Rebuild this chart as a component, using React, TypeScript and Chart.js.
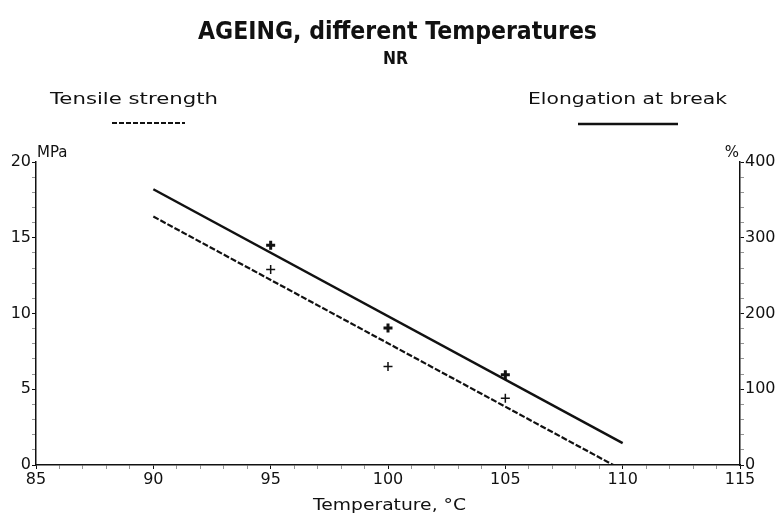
import React, { useEffect, useRef } from 'react';
import { Chart, registerables } from 'chart.js';

Chart.register(...registerables);

const chartTitle = 'AGEING, different Temperatures';
const chartSubtitle = 'NR';
const xTitle = 'Temperature, °C';
const seriesNames = ['Tensile strength', 'Elongation at break'];
const axisUnits = ['MPa', '%'];

const measuredTemps = [95, 100, 105];
const tensileMeasured = [12.9, 6.5, 4.4];
const elongationMeasured = [290, 181, 119];

const tensileFitTemps = [90, 109.6];
const tensileFit = [16.4, 0];
const elongationFitTemps = [90, 110];
const elongationFit = [364, 29];

const xRange = [85, 115];
const yRange = [0, 20];
const y1Range = [0, 400];

const toPts = (xs: number[], ys: number[]) => xs.map((x, i) => ({ x, y: ys[i] }));

const INK = '#111111';
const TICK_FONT = { family: 'DejaVu Sans', size: 16 };

const fitText = (ctx: CanvasRenderingContext2D, text: string, left: number, cy: number, width: number, sy: number) => {
  const w = ctx.measureText(text).width;
  ctx.save();
  ctx.translate(left, cy);
  ctx.scale(width / w, sy);
  ctx.textAlign = 'left';
  ctx.fillText(text, 0, 0);
  ctx.restore();
};

const textPlugin = {
  id: 'texts',
  afterDraw(chart: any) {
    const ctx = chart.ctx as CanvasRenderingContext2D;
    const area = chart.chartArea;
    ctx.save();
    ctx.fillStyle = INK;
    ctx.strokeStyle = INK;
    ctx.textBaseline = 'middle';
    ctx.font = 'bold 20px "DejaVu Sans"';
    fitText(ctx, chartTitle, 198, 32, 399, 1.25);
    ctx.font = 'bold 16px "DejaVu Sans"';
    fitText(ctx, chartSubtitle, 383, 59, 25, 1.1);

    ctx.font = '15px "DejaVu Sans"';
    fitText(ctx, seriesNames[0], 50, 100, 168, 1.1);
    fitText(ctx, seriesNames[1], 528, 100, 199, 1.1);
    fitText(ctx, xTitle, 313, 506, 153, 1.1);

    ctx.lineWidth = 2.2;
    ctx.setLineDash([5, 2]);
    ctx.beginPath();
    ctx.moveTo(112, 123);
    ctx.lineTo(185, 123);
    ctx.stroke();
    ctx.setLineDash([]);
    ctx.lineWidth = 2.5;
    ctx.beginPath();
    ctx.moveTo(578, 124);
    ctx.lineTo(678, 124);
    ctx.stroke();

    ctx.font = '15px "DejaVu Sans"';
    ctx.textAlign = 'left';
    ctx.fillText(axisUnits[0], area.left + 1, area.top - 9);
    ctx.textAlign = 'right';
    ctx.fillText(axisUnits[1], area.right - 1, area.top - 9);
    ctx.restore();
  },
};

const tickColor = (every: number) => (c: any) =>
  c.tick && Number(c.tick.value) % every === 0 ? INK : 'rgba(17,17,17,0.45)';

export default function App() {
  const ref = useRef<HTMLCanvasElement | null>(null);

  useEffect(() => {
    if (!ref.current) return;
    const chart = new Chart(ref.current, {
      type: 'scatter',
      data: {
        datasets: [
          {
            label: seriesNames[0],
            data: toPts(tensileFitTemps, tensileFit),
            yAxisID: 'y',
            showLine: true,
            borderColor: INK,
            borderWidth: 2.2,
            borderDash: [6, 2],
            pointRadius: 0,
          },
          {
            label: seriesNames[1],
            data: toPts(elongationFitTemps, elongationFit),
            yAxisID: 'y1',
            showLine: true,
            borderColor: INK,
            borderWidth: 2.5,
            pointRadius: 0,
          },
          {
            label: seriesNames[0] + ' measured',
            data: toPts(measuredTemps, tensileMeasured),
            yAxisID: 'y',
            pointStyle: 'cross',
            pointRadius: 4.5,
            borderColor: INK,
            backgroundColor: INK,
            borderWidth: 1.5,
          },
          {
            label: seriesNames[1] + ' measured',
            data: toPts(measuredTemps, elongationMeasured),
            yAxisID: 'y1',
            pointStyle: 'cross',
            pointRadius: 4.5,
            borderColor: INK,
            backgroundColor: INK,
            borderWidth: 3,
          },
        ],
      },
      options: {
        animation: false,
        responsive: true,
        maintainAspectRatio: false,
        layout: { padding: { top: 162, left: 0, right: 0, bottom: 0 } },
        plugins: {
          legend: { display: false },
          title: { display: false },
          tooltip: { enabled: false },
        },
        scales: {
          x: {
            type: 'linear',
            min: xRange[0],
            max: xRange[1],
            afterFit: (s: any) => { s.height = 57; },
            ticks: {
              stepSize: 1,
              autoSkip: false,
              maxRotation: 0,
              color: INK,
              font: TICK_FONT,
              padding: 1,
              callback: (v: any) => (Number(v) % 5 === 0 ? String(v) : ''),
            },
            grid: { drawOnChartArea: false, tickLength: 4, color: tickColor(5), lineWidth: 1 },
            border: { display: true, color: INK, width: 1.5 },
          },
          y: {
            type: 'linear',
            position: 'left',
            min: yRange[0],
            max: yRange[1],
            afterFit: (s: any) => { s.width = 36; },
            ticks: {
              stepSize: 1,
              autoSkip: false,
              color: INK,
              font: TICK_FONT,
              padding: 1,
              callback: (v: any) => (Number(v) % 5 === 0 ? String(v) : ''),
            },
            grid: { drawOnChartArea: false, tickLength: 4, color: tickColor(5), lineWidth: 1 },
            border: { display: true, color: INK, width: 1.5 },
          },
          y1: {
            type: 'linear',
            position: 'right',
            min: y1Range[0],
            max: y1Range[1],
            afterFit: (s: any) => { s.width = 40; },
            ticks: {
              stepSize: 20,
              autoSkip: false,
              color: INK,
              font: TICK_FONT,
              padding: 1,
              callback: (v: any) => (Number(v) % 100 === 0 ? String(v) : ''),
            },
            grid: { drawOnChartArea: false, tickLength: 4, color: tickColor(100), lineWidth: 1 },
            border: { display: true, color: INK, width: 1.5 },
          },
        },
      } as any,
      plugins: [textPlugin],
    });
    return () => chart.destroy();
  }, []);

  return (
    <div style={{ position: 'fixed', left: 0, top: 0, width: 780, height: 522, background: '#fff' }}>
      <canvas ref={ref} />
    </div>
  );
}
